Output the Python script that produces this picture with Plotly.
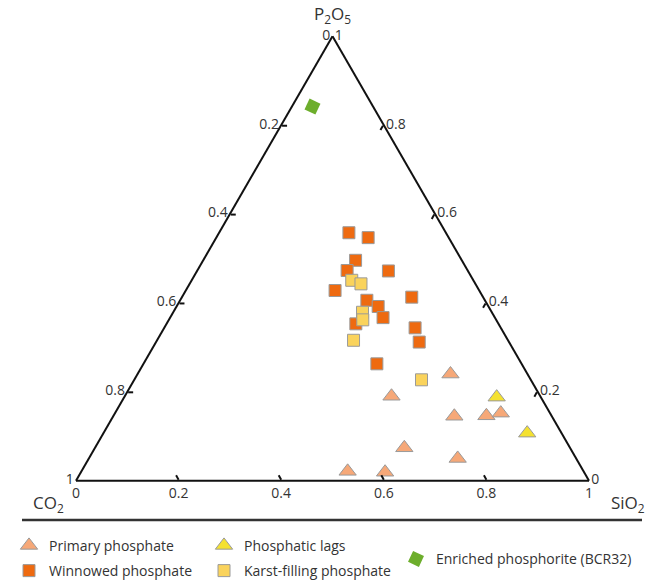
import plotly.graph_objects as go

# Ternary components: P2O5 (top), CO2 (bottom-left), SiO2 (bottom-right)
primary_p2o5 = [0.24, 0.19, 0.145, 0.146, 0.152, 0.074, 0.05, 0.019, 0.021]
primary_co2 = [0.15, 0.29, 0.19, 0.127, 0.096, 0.323, 0.231, 0.388, 0.46]
primary_sio2 = [0.61, 0.52, 0.665, 0.727, 0.752, 0.603, 0.719, 0.593, 0.519]

winnowed_p2o5 = [0.558, 0.547, 0.496, 0.473, 0.472, 0.428, 0.406, 0.413, 0.392, 0.367, 0.353, 0.344, 0.312, 0.263]
winnowed_co2 = [0.189, 0.157, 0.207, 0.235, 0.155, 0.281, 0.23, 0.139, 0.215, 0.218, 0.278, 0.167, 0.175, 0.282]
winnowed_sio2 = [0.253, 0.296, 0.297, 0.292, 0.373, 0.291, 0.364, 0.448, 0.393, 0.415, 0.369, 0.489, 0.513, 0.455]

lags_p2o5 = [0.188, 0.107]
lags_co2 = [0.086, 0.067]
lags_sio2 = [0.726, 0.826]

karst_p2o5 = [0.451, 0.443, 0.379, 0.362, 0.316, 0.227]
karst_co2 = [0.237, 0.223, 0.252, 0.26, 0.301, 0.213]
karst_sio2 = [0.312, 0.334, 0.369, 0.378, 0.383, 0.56]

enriched_p2o5 = [0.842]
enriched_co2 = [0.118]
enriched_sio2 = [0.04]

tick_vals = [0, 0.2, 0.4, 0.6, 0.8, 1]
tick_text = ["1", "0.8", "0.6", "0.4", "0.2", "0"]

FONT = "Open Sans"
W, H = 662, 587
outline = dict(color="#9a9a9a", width=1)

fig = go.Figure()

fig.add_trace(go.Scatterternary(
    a=winnowed_p2o5, b=winnowed_co2, c=winnowed_sio2, mode="markers", cliponaxis=False,
    name="Winnowed phosphate", legend="legend", legendrank=2, legendgroup="w",
    marker=dict(symbol="square", size=12, color="#EE6A10", line=outline)))
fig.add_trace(go.Scatterternary(
    a=karst_p2o5, b=karst_co2, c=karst_sio2, mode="markers", cliponaxis=False,
    name="Karst-filling phosphate", legend="legend2", legendrank=2, legendgroup="k",
    marker=dict(symbol="square", size=12, color="#FAD35C", line=outline)))
fig.add_trace(go.Scatterternary(
    a=primary_p2o5, b=primary_co2, c=primary_sio2, mode="markers", cliponaxis=False,
    name="Primary phosphate", legend="legend", legendrank=1, legendgroup="p",
    marker=dict(symbol="triangle-up", size=15, color="#F6A878", line=outline)))
fig.add_trace(go.Scatterternary(
    a=lags_p2o5, b=lags_co2, c=lags_sio2, mode="markers", cliponaxis=False,
    name="Phosphatic lags", legend="legend2", legendrank=1, legendgroup="l",
    marker=dict(symbol="triangle-up", size=15, color="#F4E130", line=outline)))
fig.add_trace(go.Scatterternary(
    a=enriched_p2o5, b=enriched_co2, c=enriched_sio2, mode="markers", cliponaxis=False,
    name="Enriched phosphorite (BCR32)", legend="legend3", legendgroup="e",
    marker=dict(symbol="square", size=12, angle=25, color="#6DAE2C",
                line=dict(color="#6DAE2C", width=0))))

axis_common = dict(
    tickmode="array", tickvals=tick_vals, ticktext=tick_text,
    ticks="inside", ticklen=5, tickcolor="#111", tickwidth=1.5,
    showgrid=False, linecolor="#111", linewidth=2,
    tickfont=dict(family=FONT, size=14, color="#333"),
)
title_font = dict(family=FONT, size=17, color="#333")

# triangle placement (pixels)
y_bottom, y_top = 489, 37
height = y_bottom - y_top
side = height * 2 / 3 ** 0.5
x_center = 332.5
x_left, x_right = x_center - side / 2, x_center + side / 2

legend_font = dict(family=FONT, size=14, color="#333")

fig.update_layout(
    width=W, height=H,
    margin=dict(l=0, r=0, t=0, b=0),
    paper_bgcolor="white",
    font=dict(family=FONT, size=14, color="#333"),
    ternary=dict(
        sum=1, bgcolor="white",
        domain=dict(x=[x_left / W, x_right / W], y=[(H - y_bottom) / H, (H - y_top) / H]),
        aaxis=dict(title=dict(text=""), **axis_common),
        baxis=dict(title=dict(text=""), **axis_common),
        caxis=dict(title=dict(text=""), **axis_common),
    ),
    annotations=[
        dict(text="P<sub>2</sub>O<sub>5</sub>", xref="paper", yref="paper", x=x_center / W, y=(H - 15) / H,
             xanchor="center", yanchor="middle", showarrow=False, font=title_font),
        dict(text="CO<sub>2</sub>", xref="paper", yref="paper", x=(x_left - 6) / W, y=(H - 512) / H,
             xanchor="right", yanchor="middle", showarrow=False, font=title_font),
        dict(text="SiO<sub>2</sub>", xref="paper", yref="paper", x=(x_right + 16) / W, y=(H - 512) / H,
             xanchor="left", yanchor="middle", showarrow=False, font=title_font),
    ],
    shapes=[dict(type="line", xref="paper", yref="paper",
                 x0=22 / W, x1=642 / W, y0=(H - 529) / H, y1=(H - 529) / H,
                 line=dict(color="#333", width=2.5))],
    legend=dict(x=9 / W, y=(H - 539) / H, xanchor="left", yanchor="top",
                tracegroupgap=4, font=legend_font, bgcolor="rgba(0,0,0,0)"),
    legend2=dict(x=204 / W, y=(H - 539) / H, xanchor="left", yanchor="top",
                 tracegroupgap=4, font=legend_font, bgcolor="rgba(0,0,0,0)"),
    legend3=dict(x=396 / W, y=(H - 569) / H, xanchor="left", yanchor="middle",
                 font=legend_font, bgcolor="rgba(0,0,0,0)"),
)

fig.write_html("out.html", config={"displayModeBar": False},
               post_script="document.body.style.margin='0';")
